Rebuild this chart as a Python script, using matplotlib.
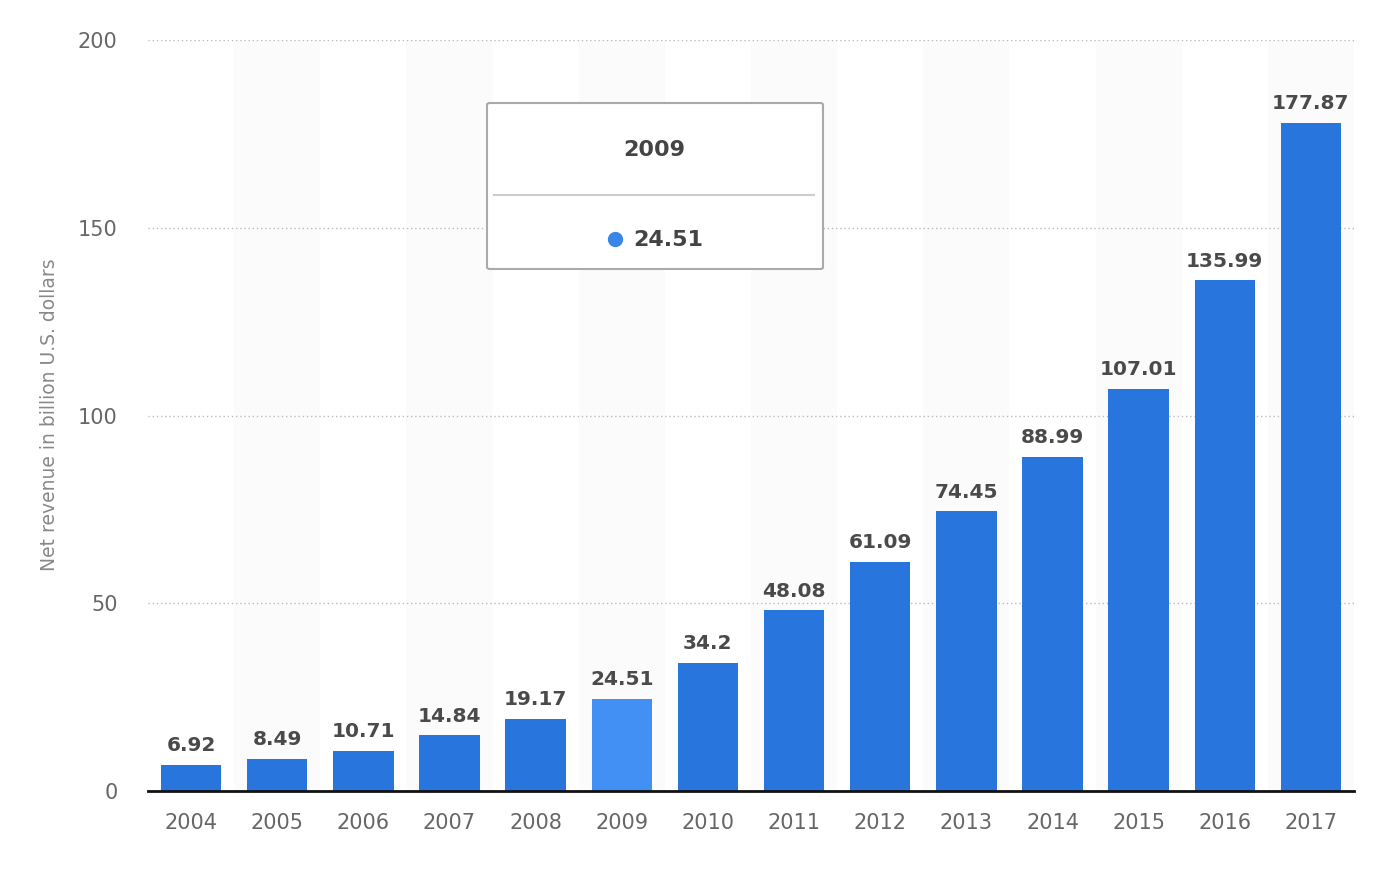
import matplotlib
matplotlib.use("Agg")
import matplotlib.pyplot as plt
from matplotlib.patches import FancyBboxPatch
from matplotlib.lines import Line2D

years = ["2004", "2005", "2006", "2007", "2008", "2009", "2010",
         "2011", "2012", "2013", "2014", "2015", "2016", "2017"]
revenue = [6.92, 8.49, 10.71, 14.84, 19.17, 24.51, 34.2,
           48.08, 61.09, 74.45, 88.99, 107.01, 135.99, 177.87]
labels = ["6.92", "8.49", "10.71", "14.84", "19.17", "24.51", "34.2",
          "48.08", "61.09", "74.45", "88.99", "107.01", "135.99", "177.87"]
highlight = "2009"
yticks = [0, 50, 100, 150, 200]

plt.rcParams['font.family'] = ['DejaVu Sans']

W, H = 1388, 874
fig = plt.figure(figsize=(W / 100, H / 100), dpi=100)
ax = fig.add_axes([148 / W, 1 - 791 / H, (1354 - 148) / W, (791 - 40) / H])

x = list(range(len(years)))
# alternating background bands
for i in x:
    if i % 2 == 1:
        ax.axvspan(i - 0.5, i + 0.5, color="#fbfbfb", zorder=0, lw=0)

colors = ["#4390f5" if y == highlight else "#2876dd" for y in years]
ax.bar(x, revenue, width=0.7, color=colors, zorder=3)

for xi, v, lab in zip(x, revenue, labels):
    ax.annotate(lab, (xi, v), xytext=(0, 7), textcoords="offset points",
                ha="center", va="bottom", fontsize=14.5, fontweight="bold",
                color="#4a4a4a", zorder=4)

ax.set_xlim(-0.5, len(years) - 0.5)
ax.set_ylim(0, 200)
ax.set_yticks(yticks)
ax.set_xticks(x)
ax.set_xticklabels(years)
ax.tick_params(axis="both", length=0, labelsize=15, colors="#666666")
ax.tick_params(axis="x", pad=16)
ax.tick_params(axis="y", pad=22)
ax.yaxis.grid(True, linestyle=(0, (1, 2)), color="#bbbbbb", lw=1, zorder=1)
for s in ["top", "right", "left"]:
    ax.spines[s].set_visible(False)
ax.spines["bottom"].set_color("#111111")
ax.spines["bottom"].set_linewidth(2)
ax.spines["bottom"].set_zorder(5)

fig.text(50 / W, 1 - 415 / H, "Net revenue in billion U.S. dollars",
         rotation=90, ha="center", va="center", fontsize=13.5, color="#888888")

# tooltip
box = FancyBboxPatch((487 / W, 1 - 269 / H), (823 - 487) / W, (269 - 103) / H,
                     boxstyle="round,pad=0,rounding_size=0.002",
                     transform=fig.transFigure, facecolor="white",
                     edgecolor="#aaaaaa", lw=1.5, zorder=10)
fig.add_artist(box)
fig.text(654 / W, 1 - 150 / H, highlight, ha="center", va="center",
         fontsize=16, fontweight="bold", color="#444444", zorder=11)
fig.add_artist(Line2D([494 / W, 814 / W], [1 - 195 / H, 1 - 195 / H],
                      transform=fig.transFigure, color="#cccccc", lw=1.5,
                      zorder=11))
fig.add_artist(Line2D([615 / W], [1 - 239 / H], transform=fig.transFigure,
                      marker="o", markersize=10, color="#3a86e8", lw=0,
                      zorder=11))
fig.text(633 / W, 1 - 240 / H, labels[years.index(highlight)], ha="left",
         va="center", fontsize=16, fontweight="bold", color="#444444",
         zorder=11)

fig.savefig("out.png", dpi=100, facecolor="white")
